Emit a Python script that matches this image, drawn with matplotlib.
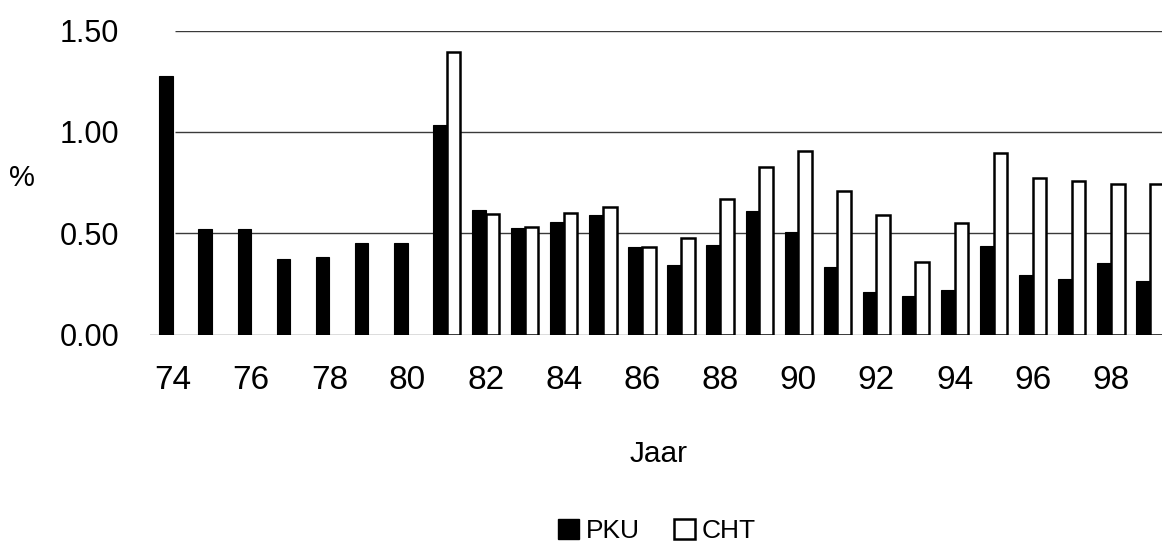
import numpy as np
import matplotlib
matplotlib.use("Agg")
import matplotlib.pyplot as plt
from matplotlib.patches import Patch

# Percentages per year (74 .. 99)
years = list(range(74, 100))
pku = [1.275, 0.523, 0.523, 0.373, 0.383, 0.452, 0.451, 1.032, 0.615, 0.525,
       0.553, 0.592, 0.432, 0.342, 0.442, 0.608, 0.508, 0.335, 0.212, 0.192,
       0.220, 0.435, 0.293, 0.272, 0.352, 0.262]
cht = [np.nan, np.nan, np.nan, np.nan, np.nan, np.nan, np.nan, 1.396, 0.595, 0.532,
       0.600, 0.630, 0.430, 0.478, 0.668, 0.827, 0.905, 0.710, 0.590, 0.360,
       0.548, 0.897, 0.770, 0.758, 0.745, 0.745]
tick_years = years[::2]
yticks = [0.0, 0.5, 1.0, 1.5]

plt.rcParams['font.family'] = ['Liberation Sans', 'DejaVu Sans']

W, H = 1162, 544
fig = plt.figure(figsize=(W / 100, H / 100), dpi=100)

# axes box in pixel units (left, bottom from figure origin)
left_px, right_px = 150, 1173
bottom_px, top_px = H - 334.5, H - 30.5
ax = fig.add_axes([left_px / W, bottom_px / H, (right_px - left_px) / W, (top_px - bottom_px) / H])

x = np.arange(len(years))
bw = 0.35
xmin, xmax = -0.59, len(years) - 0.41
ax.bar(x - bw / 2, pku, width=bw, color='black', edgecolor='black', linewidth=0.8, zorder=3)
ax.bar(x + bw / 2, cht, width=bw, color='white', edgecolor='black', linewidth=1.8, zorder=3)

ax.set_xlim(xmin, xmax)
ax.set_ylim(0, 1.5)
ax.set_yticks(yticks)
ax.set_yticklabels([f"{v:.2f}" for v in yticks], fontsize=22)
ax.set_xticks([years.index(y) for y in tick_years])
ax.set_xticklabels([str(y) for y in tick_years], fontsize=24)
ax.tick_params(axis='y', length=0, pad=22)
ax.tick_params(axis='x', length=0, pad=22)

# horizontal gridlines start just right of the first bar
grid_start = xmin + 25 / 39.1
ax.hlines(yticks[1:], grid_start, xmax, color='#3a3a3a', linewidth=1.0, zorder=1)
ax.axhline(0, color='#555555', linewidth=1.0, zorder=2)

for s in ax.spines.values():
    s.set_visible(False)

fig.text(22 / W, 1 - 178 / H, '%', fontsize=21, ha='center', va='center')
fig.text(659 / W, 1 - 462 / H, 'Jaar', fontsize=21.5, ha='center', va='baseline')

handles = [Patch(facecolor='black', edgecolor='black', label='PKU'),
           Patch(facecolor='white', edgecolor='black', linewidth=1.8, label='CHT')]
fig.legend(handles=handles, loc='center', bbox_to_anchor=(657 / W, 1 - 531 / H),
           ncol=2, frameon=False, fontsize=19, handlelength=0.8, handleheight=0.8,
           handletextpad=0.25, columnspacing=1.3, borderaxespad=0)

fig.savefig('out.png', dpi=100, facecolor='white')
